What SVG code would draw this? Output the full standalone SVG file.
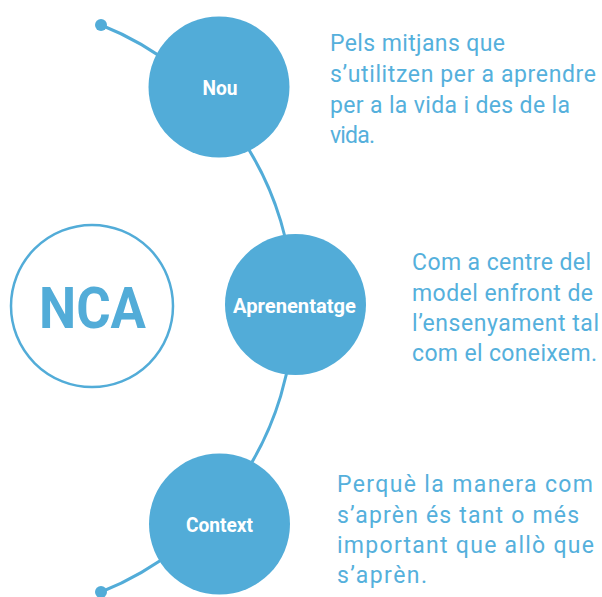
<svg xmlns="http://www.w3.org/2000/svg" width="602" height="597" viewBox="0 0 602 597">
<style>
.node{fill:#52acd8;}
.lbl{fill:#ffffff;font-family:Roboto,"Liberation Sans",sans-serif;font-weight:bold;font-size:20.5px;text-anchor:middle;}
.desc{fill:#55b0dc;font-family:Roboto,"Liberation Sans",sans-serif;font-size:23px;}
.conn{fill:none;stroke:#52acd8;stroke-width:3;}
.dot{fill:#52acd8;}
</style>
<rect width="602" height="597" fill="#ffffff"/>
<g id="connectors">
<path class="conn" d="M101,25 A305,305 0 0 1 101,592"/>
<circle class="dot" cx="101" cy="25" r="6"/>
<circle class="dot" cx="101" cy="592" r="6"/>
</g>
<g id="nca">
<circle cx="92" cy="306" r="81" fill="none" stroke="#52acd8" stroke-width="2.5"/>
<text x="92.5" y="328" fill="#52acd8" font-family="Roboto,'Liberation Sans',sans-serif" font-weight="bold" font-size="57" text-anchor="middle" textLength="107" lengthAdjust="spacingAndGlyphs">NCA</text>
</g>
<g id="nou">
<circle class="node" cx="219" cy="87" r="70.5"/>
<text class="lbl" x="220" y="95" textLength="35" lengthAdjust="spacingAndGlyphs">Nou</text>
</g>
<g id="aprenentatge">
<circle class="node" cx="295.5" cy="304.5" r="70.5"/>
<text class="lbl" x="294.5" y="313" textLength="123" lengthAdjust="spacingAndGlyphs">Aprenentatge</text>
</g>
<g id="context">
<circle class="node" cx="219.5" cy="524" r="70.5"/>
<text class="lbl" x="219.5" y="531.5" textLength="67" lengthAdjust="spacingAndGlyphs">Context</text>
</g>
<g id="desc-nou" class="desc">
<text x="330" y="51" textLength="175">Pels mitjans que</text>
<text x="330" y="82" textLength="266">s’utilitzen per a aprendre</text>
<text x="330" y="113" textLength="240">per a la vida i des de la</text>
<text x="330" y="143" textLength="45">vida.</text>
</g>
<g id="desc-aprenentatge" class="desc">
<text x="412" y="270" textLength="179">Com a centre del</text>
<text x="412" y="301" textLength="181">model enfront de</text>
<text x="412" y="331" textLength="187">l’ensenyament tal</text>
<text x="412" y="361" textLength="185">com el coneixem.</text>
</g>
<g id="desc-context" class="desc">
<text x="337" y="492" textLength="256">Perquè la manera com</text>
<text x="337" y="523" textLength="242">s’aprèn és tant o més</text>
<text x="337" y="553" textLength="257">important que allò que</text>
<text x="337" y="583" textLength="90">s’aprèn.</text>
</g>
</svg>
